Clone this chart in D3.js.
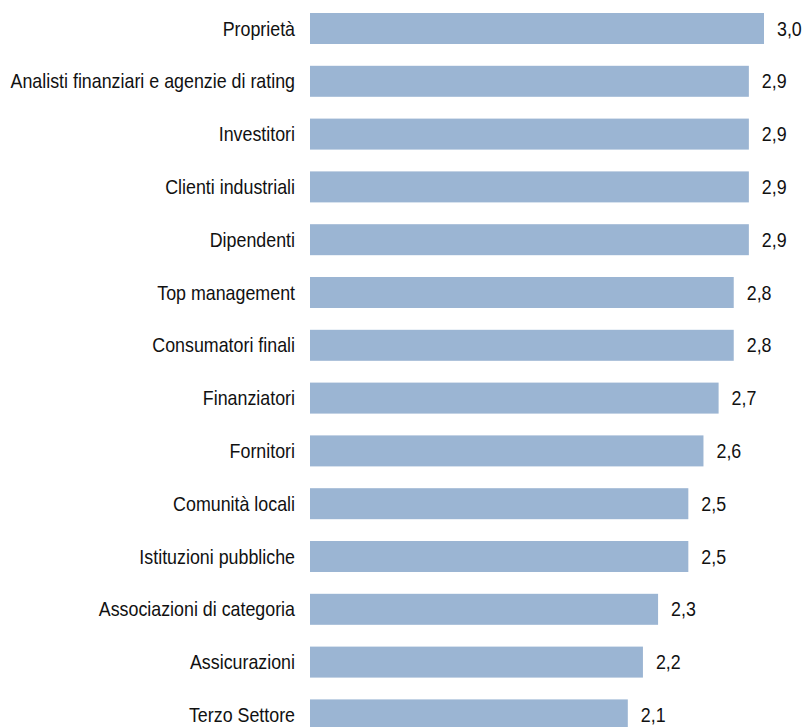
<!DOCTYPE html>
<html>
<head>
<meta charset="utf-8">
<script src="https://cdn.jsdelivr.net/npm/d3@7"></script>
<style>
  html, body { margin: 0; padding: 0; background: #fff; }
  svg { display: block; }
  text { font-family: "Liberation Sans Narrow", "Arial Narrow", "Liberation Sans", Arial, sans-serif; fill: #111; }
</style>
</head>
<body>
<svg id="chart" width="803" height="727"></svg>
<script>
const categories = [
  "Proprietà",
  "Analisti finanziari e agenzie di rating",
  "Investitori",
  "Clienti industriali",
  "Dipendenti",
  "Top management",
  "Consumatori finali",
  "Finanziatori",
  "Fornitori",
  "Comunità locali",
  "Istituzioni pubbliche",
  "Associazioni di categoria",
  "Assicurazioni",
  "Terzo Settore"
];
const values = [3.0, 2.9, 2.9, 2.9, 2.9, 2.8, 2.8, 2.7, 2.6, 2.5, 2.5, 2.3, 2.2, 2.1];

const svg = d3.select("#chart");
const x = d3.scaleLinear().domain([0, 3]).range([310, 764]);
const y = d3.scaleBand().domain(categories).range([13, 730.4]).paddingInner(0.413).paddingOuter(0);

const fmt = v => d3.format(".1f")(v).replace(".", ",");
const SX = 0.85;      // horizontal condensing to mimic a condensed typeface
const FS = "21px";

svg.selectAll("rect.bar")
  .data(values)
  .join("rect")
  .attr("class", "bar")
  .attr("x", x(0))
  .attr("y", (d, i) => y(categories[i]))
  .attr("width", d => x(d) - x(0))
  .attr("height", y.bandwidth())
  .attr("fill", "#9bb5d3");

const axis = d3.axisLeft(y).tickSize(0).tickPadding(15);
const g = svg.append("g").attr("transform", `translate(${x(0)},0)`).call(axis);
g.select(".domain").remove();
g.selectAll(".tick text")
  .attr("x", -15 / SX)
  .attr("dy", "0.34em")
  .attr("transform", `scale(${SX},1)`)
  .attr("fill", "#111")
  .style("font-size", FS)
  .style("font-family", "\"Liberation Sans\", Arial, sans-serif");

svg.selectAll("text.val")
  .data(values)
  .join("text")
  .attr("class", "val")
  .attr("transform", (d, i) => `translate(${x(d) + 13},${y(categories[i]) + y.bandwidth() / 2}) scale(${SX},1)`)
  .attr("dy", "0.34em")
  .style("font-size", FS)
  .text(d => fmt(d));
</script>
</body>
</html>
